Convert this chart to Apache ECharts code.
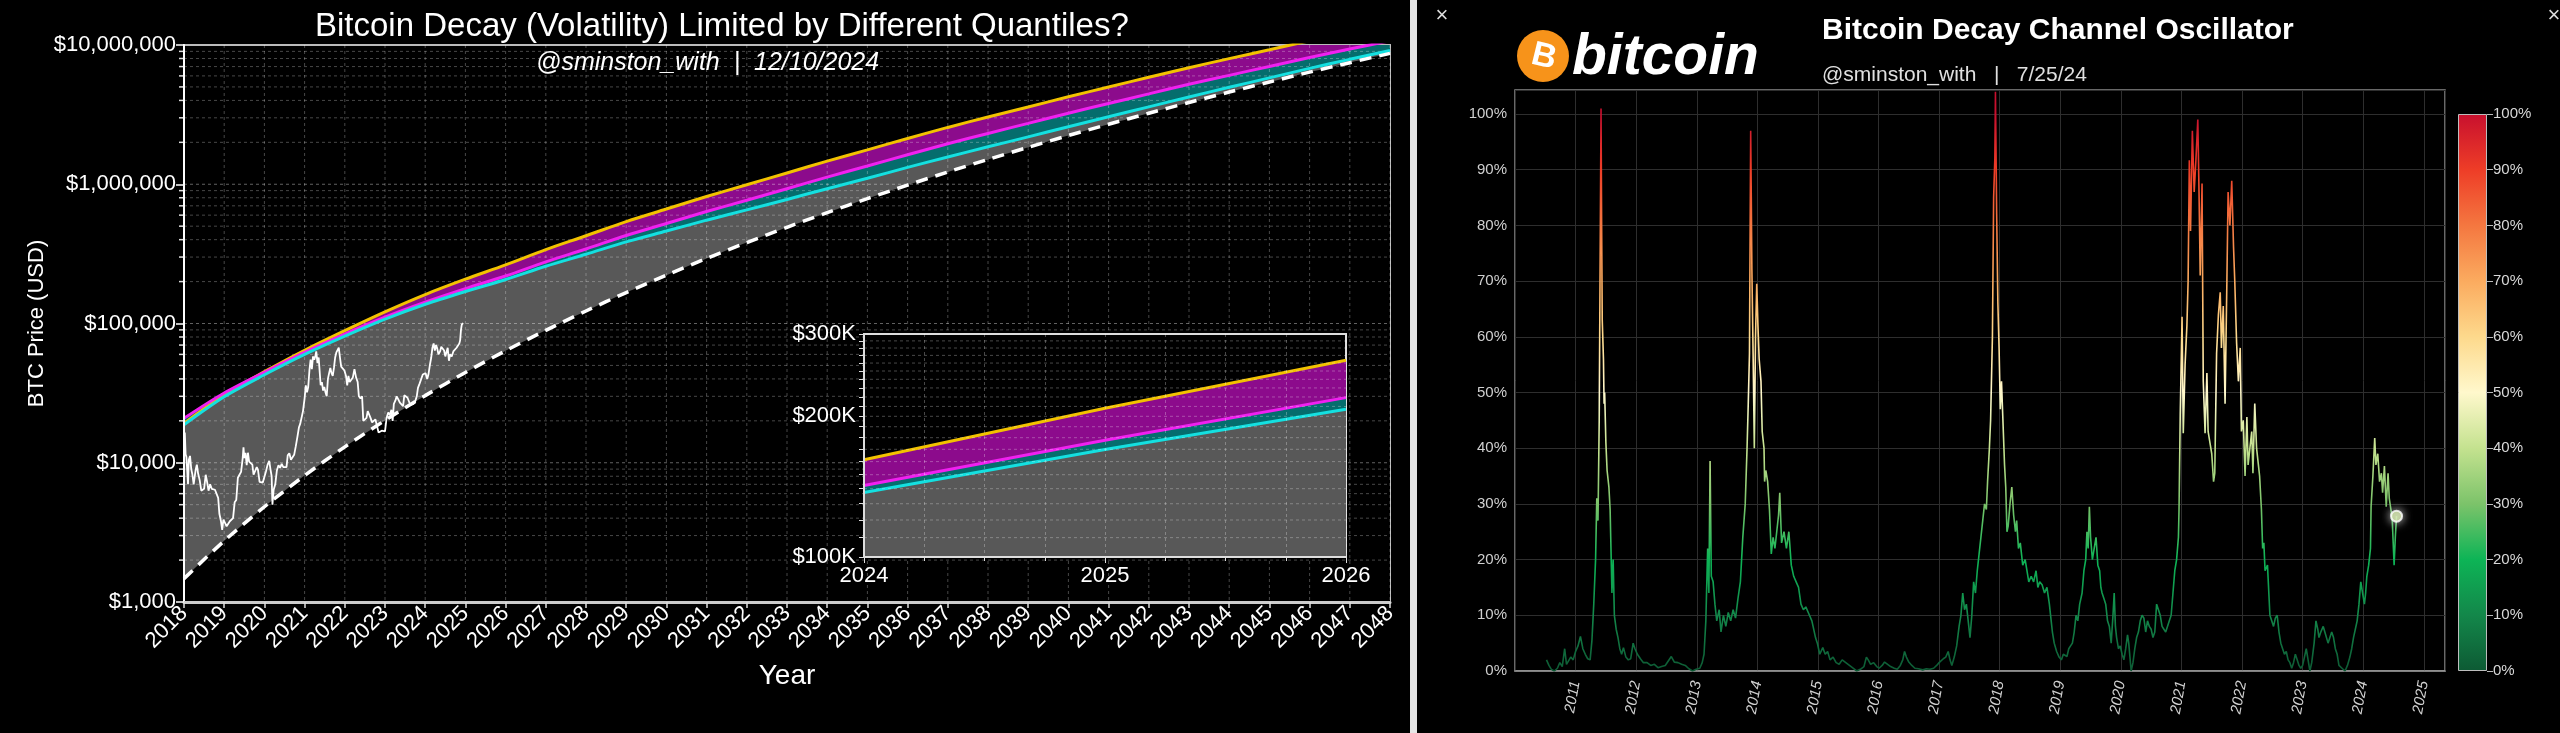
<!DOCTYPE html>
<html>
<head>
<meta charset="utf-8">
<script src="https://cdn.jsdelivr.net/npm/echarts@6/dist/echarts.min.js"></script>
<style>
  html, body { margin: 0; padding: 0; background: #000; }
  #chart { width: 2560px; height: 733px; }
</style>
</head>
<body>
<div id="chart"></div>
<script>
// ---- left chart: quantile channel (one value per year) ----
var YEARS = [2018, 2019, 2020, 2021, 2022, 2023, 2024, 2025, 2026, 2027, 2028, 2029, 2030, 2031, 2032, 2033,
  2034, 2035, 2036, 2037, 2038, 2039, 2040, 2041, 2042, 2043, 2044, 2045, 2046, 2047, 2048];
// yellow (upper quantile)
var Q_TOP = [19190, 30830, 45080, 64270, 88920, 121300, 161400, 208000, 263600, 339600, 426600, 539500, 663700,
  816600, 990800, 1205000, 1466000, 1766000, 2133000, 2559000, 3041000, 3589000, 4246000, 5000000, 5861000,
  6871000, 7980000, 9247000, 10720000, 12330000, 14130000];
// magenta
var Q_MID = [20840, 31700, 44670, 62090, 83750, 110900, 142200, 177800, 219300, 277300, 342800, 428500, 522400,
  636800, 767400, 929000, 1125000, 1352000, 1629000, 1954000, 2317000, 2735000, 3236000, 3802000, 4457000,
  5224000, 6053000, 7015000, 8128000, 9354000, 10720000];
// cyan
var Q_LOW = [18750, 29790, 42850, 59980, 81100, 107400, 137400, 169800, 207000, 257600, 314100, 385500, 461300,
  552100, 654600, 778000, 929000, 1104000, 1321000, 1570000, 1858000, 2188000, 2588000, 3055000, 3597000,
  4236000, 4966000, 5808000, 6792000, 7889000, 9120000];
// white dashed floor
var FLOOR = [1472, 2748, 4831, 8091, 13000, 20140, 30340, 44460, 63680, 89330, 123000, 166700, 222300, 293100,
  381100, 490900, 625200, 788900, 986300, 1225000, 1507000, 1841000, 2239000, 2698000, 3236000, 3864000,
  4592000, 5420000, 6383000, 7464000, 8710000];

// BTC price [year, usd]
var BTC = [[2018.00,13500],[2018.02,16500],[2018.04,11500],[2018.06,11000],[2018.08,8800],[2018.10,7000],
  [2018.12,10500],[2018.15,11200],[2018.18,9000],[2018.21,8200],[2018.24,7000],[2018.26,6900],[2018.29,8900],
  [2018.32,9700],[2018.35,8400],[2018.39,7500],[2018.43,6300],[2018.46,6100],[2018.50,6500],[2018.54,8200],
  [2018.57,7400],[2018.61,6300],[2018.65,7000],[2018.69,6500],[2018.73,6600],[2018.77,6400],[2018.81,6300],
  [2018.85,5600],[2018.88,4300],[2018.92,3800],[2018.95,3300],[2018.98,3900],[2019.02,3700],[2019.06,3500],
  [2019.10,3500],[2019.14,3800],[2019.18,3900],[2019.22,4000],[2019.26,5200],[2019.30,5400],[2019.34,7800],
  [2019.38,8200],[2019.42,8600],[2019.46,10800],[2019.48,12900],[2019.50,10800],[2019.53,11800],[2019.56,9600],
  [2019.59,11800],[2019.62,10200],[2019.66,10400],[2019.70,9700],[2019.73,8200],[2019.77,8300],[2019.81,9300],
  [2019.84,8900],[2019.88,7300],[2019.92,7100],[2019.96,7200],[2020.00,7400],[2020.04,8700],[2020.08,9700],
  [2020.12,10300],[2020.15,9000],[2020.18,8000],[2020.20,5000],[2020.23,6400],[2020.27,7000],[2020.31,8800],
  [2020.35,9600],[2020.39,9200],[2020.43,9800],[2020.47,9300],[2020.51,9200],[2020.55,9300],[2020.58,11300],
  [2020.62,11700],[2020.66,10500],[2020.70,10800],[2020.74,11400],[2020.78,13100],[2020.82,15300],[2020.86,18000],
  [2020.89,19000],[2020.93,19200],[2020.96,23500],[2021.00,29000],[2021.03,36000],[2021.06,32000],[2021.09,35000],
  [2021.12,46000],[2021.15,55000],[2021.18,47000],[2021.21,58000],[2021.24,55000],[2021.27,59000],[2021.29,63000],
  [2021.32,52000],[2021.35,57000],[2021.38,43000],[2021.40,36000],[2021.43,38000],[2021.46,33000],[2021.49,35000],
  [2021.52,32000],[2021.55,30000],[2021.58,40000],[2021.61,44000],[2021.64,48000],[2021.67,44000],[2021.70,42000],
  [2021.73,48000],[2021.76,57000],[2021.79,62000],[2021.82,60000],[2021.85,67000],[2021.88,57000],[2021.91,49000],
  [2021.95,50000],[2021.99,46000],[2022.03,42000],[2022.06,36000],[2022.09,42000],[2022.12,38000],[2022.16,38000],
  [2022.20,41000],[2022.24,47000],[2022.28,41000],[2022.32,38000],[2022.35,30000],[2022.39,29000],[2022.43,30000],
  [2022.46,20000],[2022.50,19500],[2022.54,21000],[2022.57,23500],[2022.61,24000],[2022.64,21000],[2022.68,19500],
  [2022.72,19000],[2022.76,20500],[2022.80,20000],[2022.84,16500],[2022.88,16200],[2022.92,17000],[2022.96,16600],
  [2023.00,16800],[2023.04,21000],[2023.08,23000],[2023.12,22000],[2023.16,24000],[2023.19,20000],[2023.22,26500],
  [2023.26,28000],[2023.29,30000],[2023.33,28500],[2023.37,27000],[2023.41,26800],[2023.45,25500],[2023.48,30500],
  [2023.52,30000],[2023.56,29300],[2023.60,29200],[2023.63,26000],[2023.67,26000],[2023.71,26500],[2023.75,27500],
  [2023.79,30000],[2023.82,34500],[2023.86,37000],[2023.90,38000],[2023.94,43000],[2023.97,42000],[2024.01,44000],
  [2024.05,40000],[2024.08,43000],[2024.12,51000],[2024.15,57000],[2024.18,67000],[2024.21,72000],[2024.24,64000],
  [2024.27,70000],[2024.30,66000],[2024.33,60000],[2024.37,63000],[2024.40,68000],[2024.44,67000],[2024.47,64000],
  [2024.50,58000],[2024.53,57000],[2024.56,67000],[2024.59,54000],[2024.62,60000],[2024.66,58000],[2024.70,63000],
  [2024.74,62000],[2024.78,67000],[2024.82,69000],[2024.85,72000],[2024.87,76000],[2024.89,90000],[2024.91,98000],
  [2024.93,97000],[2024.94,101000]];

var INSET_YEARS = [2024, 2025, 2026];
var INSET_LABELS = [100000, 200000, 300000];

// ---- right chart: decay channel oscillator [year, percent] ----
var OSC = [[2010.52,2.0],[2010.56,1.0],[2010.60,0.3],[2010.65,0.0],[2010.70,0.5],[2010.74,1.5],[2010.78,0.8],
  [2010.82,4.0],[2010.85,1.2],[2010.88,1.0],[2010.92,2.5],[2010.96,2.0],[2011.00,3.5],[2011.04,4.5],[2011.08,6.2],
  [2011.12,4.0],[2011.16,3.0],[2011.20,2.2],[2011.24,2.0],[2011.27,5.5],[2011.30,12.0],[2011.33,20.0],[2011.35,31.0],
  [2011.37,27.0],[2011.39,45.0],[2011.40,64.0],[2011.42,101.0],[2011.43,80.0],[2011.44,63.0],[2011.46,56.0],
  [2011.47,48.0],[2011.48,50.0],[2011.50,41.0],[2011.52,36.0],[2011.55,33.0],[2011.57,29.0],[2011.58,24.0],
  [2011.60,14.0],[2011.62,20.0],[2011.64,10.0],[2011.67,7.5],[2011.70,6.0],[2011.73,4.0],[2011.76,3.0],[2011.79,4.2],
  [2011.83,2.5],[2011.87,2.0],[2011.91,2.2],[2011.95,5.0],[2011.98,4.0],[2012.02,3.0],[2012.07,2.2],[2012.12,1.5],
  [2012.18,1.5],[2012.24,1.0],[2012.30,1.2],[2012.36,0.6],[2012.42,0.8],[2012.48,1.0],[2012.53,1.8],[2012.58,2.6],
  [2012.63,1.6],[2012.69,1.5],[2012.75,1.2],[2012.81,1.0],[2012.87,0.4],[2012.93,0.0],[2012.99,0.3],[2013.05,0.5],
  [2013.09,1.5],[2013.12,3.0],[2013.15,9.0],[2013.18,22.0],[2013.20,14.0],[2013.22,37.7],[2013.24,17.0],
  [2013.27,16.0],[2013.30,12.0],[2013.33,9.0],[2013.37,11.0],[2013.40,7.0],[2013.44,10.0],[2013.48,8.0],
  [2013.52,10.5],[2013.56,9.0],[2013.60,11.0],[2013.64,9.5],[2013.68,13.0],[2013.72,16.0],[2013.76,24.0],
  [2013.80,30.0],[2013.83,40.0],[2013.85,48.0],[2013.87,57.0],[2013.89,97.0],[2013.90,85.0],[2013.91,72.0],
  [2013.93,57.0],[2013.95,40.0],[2013.97,60.0],[2013.99,69.5],[2014.01,62.0],[2014.03,56.0],[2014.06,52.0],
  [2014.08,43.0],[2014.11,40.0],[2014.12,34.0],[2014.14,36.0],[2014.17,34.0],[2014.20,29.0],[2014.23,21.0],
  [2014.26,24.0],[2014.29,22.0],[2014.32,25.0],[2014.35,28.0],[2014.37,32.0],[2014.40,23.0],[2014.44,25.0],
  [2014.48,22.0],[2014.52,25.0],[2014.56,19.0],[2014.60,17.0],[2014.64,16.0],[2014.68,15.0],[2014.72,12.0],
  [2014.76,11.0],[2014.80,11.5],[2014.86,10.0],[2014.90,9.0],[2014.92,8.0],[2014.96,6.0],[2014.99,5.0],[2015.03,3.0],
  [2015.08,4.2],[2015.12,3.0],[2015.16,3.5],[2015.20,2.0],[2015.25,2.5],[2015.30,1.5],[2015.35,1.2],[2015.40,2.0],
  [2015.46,1.5],[2015.52,1.0],[2015.58,0.5],[2015.64,0.0],[2015.70,0.3],[2015.76,0.8],[2015.80,2.5],[2015.83,2.0],
  [2015.87,1.2],[2015.92,1.5],[2015.97,0.8],[2016.01,0.5],[2016.06,1.0],[2016.10,1.6],[2016.15,1.2],[2016.20,0.8],
  [2016.26,0.5],[2016.31,0.3],[2016.36,1.0],[2016.40,2.0],[2016.43,3.5],[2016.46,2.5],[2016.50,1.6],[2016.55,1.0],
  [2016.60,0.5],[2016.66,0.4],[2016.73,0.2],[2016.79,0.4],[2016.85,0.3],[2016.91,0.5],[2016.96,1.0],[2017.00,1.5],
  [2017.03,1.5],[2017.07,2.2],[2017.11,2.5],[2017.15,3.5],[2017.18,2.0],[2017.21,1.0],[2017.25,2.5],[2017.29,4.5],
  [2017.33,8.0],[2017.36,10.0],[2017.39,14.0],[2017.42,11.0],[2017.45,12.0],[2017.48,9.0],[2017.51,6.0],
  [2017.54,10.0],[2017.57,16.0],[2017.60,14.0],[2017.63,18.0],[2017.66,21.0],[2017.69,24.0],[2017.72,27.0],
  [2017.75,30.0],[2017.78,29.0],[2017.80,34.0],[2017.83,40.0],[2017.85,45.0],[2017.88,60.0],[2017.90,85.0],
  [2017.92,92.0],[2017.93,104.0],[2017.95,82.0],[2017.97,66.0],[2017.99,58.0],[2018.01,47.0],[2018.03,52.0],
  [2018.05,46.0],[2018.08,37.0],[2018.10,33.0],[2018.12,25.0],[2018.14,26.0],[2018.17,30.0],[2018.20,33.0],
  [2018.23,28.0],[2018.26,25.0],[2018.28,27.0],[2018.31,22.0],[2018.34,23.0],[2018.38,19.0],[2018.42,20.0],
  [2018.45,18.0],[2018.48,16.0],[2018.52,17.0],[2018.56,16.0],[2018.60,18.0],[2018.63,15.0],[2018.66,16.0],
  [2018.70,15.5],[2018.74,14.0],[2018.78,15.0],[2018.82,12.0],[2018.84,10.0],[2018.87,7.0],[2018.90,5.0],
  [2018.94,3.5],[2018.98,2.5],[2019.02,2.0],[2019.05,3.0],[2019.08,3.0],[2019.11,2.6],[2019.14,4.0],[2019.17,4.5],
  [2019.20,5.0],[2019.23,7.0],[2019.26,10.0],[2019.29,9.0],[2019.32,12.0],[2019.36,14.0],[2019.39,18.0],
  [2019.42,20.0],[2019.44,25.0],[2019.46,22.0],[2019.48,29.5],[2019.50,24.0],[2019.53,20.0],[2019.56,22.0],
  [2019.59,24.0],[2019.62,19.0],[2019.65,18.0],[2019.67,15.0],[2019.69,14.0],[2019.72,13.0],[2019.75,12.0],
  [2019.78,9.0],[2019.81,8.0],[2019.84,5.0],[2019.87,10.0],[2019.89,14.0],[2019.91,8.0],[2019.93,6.0],[2019.96,4.0],
  [2019.99,4.5],[2020.02,3.0],[2020.05,2.0],[2020.08,4.0],[2020.11,6.5],[2020.13,5.0],[2020.15,2.5],[2020.17,0.0],
  [2020.20,1.5],[2020.23,4.0],[2020.26,6.0],[2020.29,7.0],[2020.32,9.0],[2020.35,10.0],[2020.38,9.5],[2020.41,7.0],
  [2020.44,9.0],[2020.47,8.0],[2020.50,7.5],[2020.53,6.0],[2020.56,7.0],[2020.59,12.0],[2020.62,11.0],[2020.65,10.0],
  [2020.68,8.0],[2020.71,7.5],[2020.74,7.0],[2020.77,7.0],[2020.80,9.0],[2020.83,10.0],[2020.86,14.0],[2020.89,18.0],
  [2020.92,20.0],[2020.95,24.0],[2020.96,29.0],[2020.98,46.0],[2021.01,63.6],[2021.03,42.7],[2021.06,55.0],
  [2021.09,62.0],[2021.11,70.0],[2021.13,91.7],[2021.15,79.0],[2021.18,97.0],[2021.21,86.0],[2021.24,92.0],
  [2021.27,99.0],[2021.29,86.0],[2021.31,71.0],[2021.34,87.5],[2021.36,52.0],[2021.39,42.7],[2021.42,53.5],
  [2021.44,43.0],[2021.47,41.0],[2021.50,39.0],[2021.53,34.0],[2021.55,35.5],[2021.58,57.0],[2021.61,64.0],
  [2021.64,68.0],[2021.66,58.0],[2021.69,65.5],[2021.72,48.0],[2021.75,70.0],[2021.77,86.0],[2021.80,80.0],
  [2021.83,88.0],[2021.86,76.0],[2021.88,70.0],[2021.91,59.0],[2021.94,52.0],[2021.97,58.0],[2021.99,43.0],
  [2022.02,45.0],[2022.05,35.0],[2022.08,45.6],[2022.10,37.0],[2022.13,40.0],[2022.16,43.0],[2022.18,35.5],
  [2022.21,48.0],[2022.24,40.0],[2022.27,37.0],[2022.29,35.0],[2022.32,29.0],[2022.34,22.0],[2022.36,23.0],
  [2022.38,18.0],[2022.42,19.0],[2022.46,10.0],[2022.49,9.0],[2022.52,8.0],[2022.55,9.5],[2022.58,10.0],[2022.61,7.0],
  [2022.64,5.0],[2022.67,4.0],[2022.70,3.0],[2022.73,3.5],[2022.76,2.0],[2022.79,1.5],[2022.82,0.5],[2022.85,1.5],
  [2022.88,3.0],[2022.91,2.0],[2022.94,1.0],[2022.97,0.5],[2023.00,1.0],[2023.03,2.5],[2023.06,4.0],[2023.09,2.0],
  [2023.12,0.0],[2023.15,1.5],[2023.19,5.0],[2023.22,9.0],[2023.25,7.5],[2023.27,6.0],[2023.30,7.0],[2023.34,8.0],
  [2023.38,6.5],[2023.42,5.0],[2023.45,6.0],[2023.48,7.0],[2023.51,6.0],[2023.54,4.0],[2023.57,3.0],[2023.60,1.0],
  [2023.65,0.5],[2023.70,0.0],[2023.74,1.0],[2023.78,2.5],[2023.81,4.0],[2023.84,6.0],[2023.87,7.5],[2023.90,9.0],
  [2023.93,12.0],[2023.96,16.0],[2023.99,14.0],[2024.02,12.0],[2024.04,14.0],[2024.06,17.0],[2024.09,19.0],
  [2024.12,22.0],[2024.13,29.5],[2024.16,35.0],[2024.19,41.8],[2024.21,37.0],[2024.24,39.0],[2024.27,34.0],
  [2024.30,35.5],[2024.32,32.0],[2024.35,36.8],[2024.38,29.5],[2024.41,35.5],[2024.43,31.0],[2024.46,28.8],
  [2024.48,27.0],[2024.51,19.0],[2024.53,24.0],[2024.55,27.8]];

var COLORBAR_MAX = [100];
var OSC_COLORS = ['#0d5a34', '#13874a', '#0db456', '#7cc36a', '#c4e28f', '#fff8cc',
  '#fdd98c', '#fbab5f', '#f47740', '#ee3d27', '#c8102e'];

var FONT = "'Liberation Sans', Arial, sans-serif";
var X0 = 2018, X1 = 2048, Y0 = 1000, Y1 = 10000000;
var IX0 = 2024, IX1 = 2026, IY0 = 100000, IY1 = 300000;

// condensed face for the right-hand header if the machine has one
function hasFont(name) {
  var ctx = document.createElement('canvas').getContext('2d');
  ctx.font = '40px monospace';
  var w = ctx.measureText('abcdefghijklmnopq').width;
  ctx.font = "40px '" + name + "', monospace";
  return ctx.measureText('abcdefghijklmnopq').width !== w;
}
var NARROW = hasFont('Liberation Sans Narrow');
var HEAD_FONT = NARROW ? "bold 36px 'Liberation Sans Narrow', sans-serif" : 'bold 30px ' + FONT;
var LOGO_FONT = NARROW ? "italic bold 68px 'Liberation Sans Narrow', sans-serif" : 'italic bold 57px ' + FONT;

function pairs(xs, ys) {
  return xs.map(function (x, i) { return [x, ys[i]]; });
}
function insetPairs(ys) {
  return INSET_YEARS.map(function (y) { return [y, ys[YEARS.indexOf(y)]]; });
}

// log grid lines (2..9 x each decade)
var mainLogLines = [];
for (var d = 1000; d < Y1; d *= 10) {
  for (var k = 1; k <= 9; k++) {
    if (d * k > Y0) mainLogLines.push([X0, d * k, k === 1 ? 1 : 0]);
  }
}
var insetLogLines = [];
for (var v = 110000; v < IY1; v += 10000) insetLogLines.push([IX0, v]);

var gridStroke = 'rgba(255,255,255,0.28)';

function vGridMain(params, api) {
  var a = api.coord([api.value(0), Y1]), b = api.coord([api.value(0), Y0]);
  return { type: 'line', shape: { x1: a[0], y1: a[1], x2: b[0], y2: b[1] },
    style: { stroke: gridStroke, lineWidth: 1, lineDash: [3, 3] } };
}
function hGridMain(params, api) {
  var val = api.value(1), major = api.value(2) === 1;
  var a = api.coord([X0, val]), b = api.coord([X1, val]);
  var kids = [{ type: 'line', shape: { x1: a[0], y1: a[1], x2: b[0], y2: b[1] },
    style: { stroke: major ? 'rgba(255,255,255,0.38)' : gridStroke, lineWidth: 1, lineDash: [3, 3] } }];
  if (!major) {
    kids.push({ type: 'line', shape: { x1: a[0] - 5, y1: a[1], x2: a[0], y2: a[1] },
      style: { stroke: '#ddd', lineWidth: 1.5 } });
  }
  return { type: 'group', children: kids };
}
function hGridInset(params, api) {
  var val = api.value(1);
  var a = api.coord([IX0, val]), b = api.coord([IX1, val]);
  return { type: 'line', shape: { x1: a[0], y1: a[1], x2: b[0], y2: b[1] },
    style: { stroke: gridStroke, lineWidth: 1, lineDash: [3, 3] } };
}

function fill(data, color, z) {
  return { type: 'line', xAxisIndex: 0, yAxisIndex: 0, data: data, smooth: 0.3, showSymbol: false,
    lineStyle: { width: 0 }, areaStyle: { color: color, opacity: 1, origin: 'start' }, z: z, silent: true };
}
function curve(data, color, width, dash, z) {
  return { type: 'line', xAxisIndex: 0, yAxisIndex: 0, data: data, smooth: 0.3, showSymbol: false,
    lineStyle: { color: color, width: width, type: dash || 'solid' }, z: z, silent: true };
}
function insetSeries(data, lineColor, areaColor, z) {
  return { type: 'line', xAxisIndex: 1, yAxisIndex: 1, data: data, showSymbol: false,
    lineStyle: { color: lineColor, width: 3 }, areaStyle: { color: areaColor, opacity: 1, origin: 'start' },
    z: z, silent: true };
}

var C_MAG_FILL = '#8c0b8c', C_TEAL_FILL = '#056d6d', C_GRAY_FILL = '#585858';
var topD = pairs(YEARS, Q_TOP), midD = pairs(YEARS, Q_MID), lowD = pairs(YEARS, Q_LOW), floorD = pairs(YEARS, FLOOR);

var axisText = { color: '#fff', fontFamily: FONT };

var option = {
  backgroundColor: '#000',
  animation: false,
  textStyle: { fontFamily: FONT },
  grid: [
    { left: 184, top: 45, width: 1206, height: 557, show: true, borderColor: '#bbb', borderWidth: 2,
      backgroundColor: 'transparent' },
    { left: 864, top: 334, width: 482, height: 223, show: true, backgroundColor: '#000',
      borderColor: '#ddd', borderWidth: 2, z: 20 },
    { left: 1515, top: 90, width: 930, height: 581, show: true, borderColor: '#8a8a8a', borderWidth: 1.5,
      backgroundColor: 'transparent' },
    { left: 2458, top: 114, width: 29, height: 557 }
  ],
  xAxis: [
    { type: 'value', gridIndex: 0, min: X0, max: X1, interval: 1, z: 12,
      name: 'Year', nameLocation: 'middle', nameGap: 60,
      nameTextStyle: { color: '#fff', fontSize: 28, fontFamily: FONT },
      axisLine: { show: true, lineStyle: { color: '#ccc', width: 3 } },
      axisTick: { show: true, length: 6, lineStyle: { color: '#ddd', width: 1.5 } },
      axisLabel: Object.assign({ fontSize: 22, rotate: 45, margin: 8, formatter: function (v) { return String(v); } }, axisText),
      splitLine: { show: false } },
    { type: 'value', gridIndex: 1, min: IX0, max: IX1, interval: 1, z: 27,
      axisLine: { show: true, lineStyle: { color: '#ddd', width: 2 } },
      axisTick: { show: true, length: 6, lineStyle: { color: '#ddd' } },
      minorTick: { show: true, splitNumber: 4, length: 4, lineStyle: { color: '#ddd' } },
      axisLabel: Object.assign({ fontSize: 22, margin: 8, formatter: function (v) { return String(v); } }, axisText),
      splitLine: { show: true, lineStyle: { color: gridStroke, type: [3, 3] } },
      minorSplitLine: { show: true, lineStyle: { color: gridStroke, type: [3, 3] } } },
    { type: 'value', gridIndex: 2, min: 2010, max: 2025.35, interval: 1,
      axisLine: { show: true, lineStyle: { color: '#9a9a9a', width: 1.5 } },
      axisTick: { show: false },
      axisLabel: { color: '#d0d0d0', fontSize: 15, fontStyle: 'italic', rotate: 80, margin: 10, fontFamily: FONT,
        formatter: function (v) { return (v % 1 === 0 && v > 2010) ? String(v) : ''; } },
      splitLine: { show: true, lineStyle: { color: '#2e2e2e', width: 1 } } },
    { type: 'category', gridIndex: 3, data: ['scale'], show: false }
  ],
  yAxis: [
    { type: 'log', gridIndex: 0, min: Y0, max: Y1, logBase: 10, z: 12,
      name: 'BTC Price (USD)', nameLocation: 'middle', nameGap: 136,
      nameTextStyle: { color: '#fff', fontSize: 22, fontFamily: FONT },
      axisLine: { show: true, lineStyle: { color: '#fff', width: 2 } },
      axisTick: { show: true, length: 8, lineStyle: { color: '#fff', width: 1.5 } },
      axisLabel: Object.assign({ fontSize: 22, margin: 8,
        formatter: function (v) { return '$' + Math.round(v).toLocaleString('en-US'); } }, axisText),
      splitLine: { show: false } },
    { type: 'log', gridIndex: 1, min: IY0, max: IY1, logBase: 10, z: 27,
      axisLine: { show: true, lineStyle: { color: '#ddd', width: 2 } },
      axisTick: { show: true, length: 5, lineStyle: { color: '#ddd' },
        customValues: insetLogLines.map(function (p) { return p[1]; }).concat(INSET_LABELS) },
      axisLabel: Object.assign({ fontSize: 22, margin: 8, customValues: INSET_LABELS,
        formatter: function (v) { return '$' + Math.round(v / 1000) + 'K'; } }, axisText),
      splitLine: { show: false } },
    { type: 'value', gridIndex: 2, min: 0, max: 104.3, interval: 10,
      axisLine: { show: false }, axisTick: { show: false },
      axisLabel: { color: '#cfcfcf', fontSize: 15, margin: 8, fontFamily: FONT,
        formatter: function (v) { return (v <= 100 && v % 10 === 0) ? v + '%' : ''; } },
      splitLine: { show: true, lineStyle: { color: '#2e2e2e', width: 1 } } },
    { type: 'value', gridIndex: 3, min: 0, max: 100, interval: 10, position: 'right',
      axisLine: { show: false },
      axisTick: { show: true, length: 6, lineStyle: { color: '#bbb' } },
      axisLabel: { color: '#d8d8d8', fontSize: 15, margin: 6, fontFamily: FONT, formatter: '{value}%' },
      splitLine: { show: false } }
  ],
  visualMap: [{
    type: 'continuous', show: false, min: 0, max: 100, dimension: 1, seriesIndex: 15,
    inRange: { color: OSC_COLORS }
  }],
  series: [
    // 0-1 main chart grid lines (drawn above the fills)
    { type: 'custom', xAxisIndex: 0, yAxisIndex: 0, data: YEARS.map(function (y) { return [y, Y0]; }),
      renderItem: vGridMain, z: 6, silent: true },
    { type: 'custom', xAxisIndex: 0, yAxisIndex: 0, data: mainLogLines, renderItem: hGridMain, z: 6, silent: true },
    // 2-5 band fills
    fill(topD, C_MAG_FILL, 2),
    fill(midD, C_TEAL_FILL, 3),
    fill(lowD, C_GRAY_FILL, 4),
    fill(floorD, '#000', 5),
    // 6-9 band lines
    curve(topD, '#f2c200', 3, null, 7),
    curve(midD, '#f020f0', 3, null, 7),
    curve(lowD, '#14e0e0', 3, null, 7),
    curve(floorD, '#ffffff', 3.5, [12, 8], 7),
    // 10 BTC price
    { type: 'line', xAxisIndex: 0, yAxisIndex: 0, data: BTC, showSymbol: false, z: 8, silent: true,
      lineStyle: { color: '#fff', width: 1.8 } },
    // 11-14 inset
    { type: 'custom', xAxisIndex: 1, yAxisIndex: 1, data: insetLogLines, renderItem: hGridInset, z: 26, silent: true },
    insetSeries(insetPairs(Q_TOP), '#f2c200', C_MAG_FILL, 22),
    insetSeries(insetPairs(Q_MID), '#f020f0', C_TEAL_FILL, 23),
    insetSeries(insetPairs(Q_LOW), '#14e0e0', C_GRAY_FILL, 24),
    // 15 oscillator
    { type: 'line', xAxisIndex: 2, yAxisIndex: 2, data: OSC, showSymbol: false, z: 3, silent: true,
      lineStyle: { width: 1.6 } },
    // 16 latest reading marker
    { type: 'scatter', xAxisIndex: 2, yAxisIndex: 2, data: [OSC[OSC.length - 1]], symbolSize: 11, z: 4,
      silent: true,
      itemStyle: { color: '#cfe6a0', borderColor: '#ffffff', borderWidth: 2,
        shadowBlur: 10, shadowColor: 'rgba(255,255,255,0.9)' } },
    // 17 colour scale
    { type: 'bar', xAxisIndex: 3, yAxisIndex: 3, data: COLORBAR_MAX, barWidth: '100%', silent: true,
      itemStyle: {
        borderColor: '#bdbdbd', borderWidth: 1,
        color: new echarts.graphic.LinearGradient(0, 1, 0, 0, OSC_COLORS.map(function (c, i) {
          return { offset: i / (OSC_COLORS.length - 1), color: c };
        }))
      } }
  ],
  graphic: { elements: [
    { type: 'rect', shape: { x: 1410, y: 0, width: 7, height: 733 }, style: { fill: '#e6e6e6' }, silent: true },
    { type: 'text', x: 315, y: 27, silent: true,
      style: { text: 'Bitcoin Decay (Volatility) Limited by Different Quantiles?', fill: '#fff',
        font: '33px ' + FONT, align: 'left', verticalAlign: 'middle' } },
    { type: 'text', x: 536, y: 63, silent: true,
      style: { text: '@sminston_with  |  12/10/2024', fill: '#fff',
        font: 'italic 25px ' + FONT, align: 'left', verticalAlign: 'middle' } },
    { type: 'text', x: 1442, y: 16, silent: true,
      style: { text: '\u00d7', fill: '#ddd', font: '22px ' + FONT, align: 'center', verticalAlign: 'middle' } },
    { type: 'text', x: 2554, y: 16, silent: true,
      style: { text: '\u00d7', fill: '#ddd', font: '22px ' + FONT, align: 'center', verticalAlign: 'middle' } },
    { type: 'circle', shape: { cx: 1543, cy: 56, r: 26 }, style: { fill: '#f7931a' }, silent: true, z: 1 },
    { type: 'text', x: 1544, y: 57, rotation: -0.24, silent: true, z: 2,
      style: { text: 'B', fill: '#fff', font: 'bold 34px ' + FONT, align: 'center', verticalAlign: 'middle' } },
    { type: 'text', x: 1572, y: 58, silent: true,
      style: { text: 'bitcoin', fill: '#fff', font: LOGO_FONT, align: 'left', verticalAlign: 'middle' } },
    { type: 'text', x: 1822, y: 31, silent: true,
      style: { text: 'Bitcoin Decay Channel Oscillator', fill: '#fff',
        font: HEAD_FONT, align: 'left', verticalAlign: 'middle' } },
    { type: 'text', x: 1822, y: 75, silent: true,
      style: { text: '@sminston_with   |   7/25/24', fill: '#e0e0e0',
        font: '21px ' + FONT, align: 'left', verticalAlign: 'middle' } }
  ] }
};

var chart = echarts.init(document.getElementById('chart'));
chart.setOption(option);
</script>
</body>
</html>
